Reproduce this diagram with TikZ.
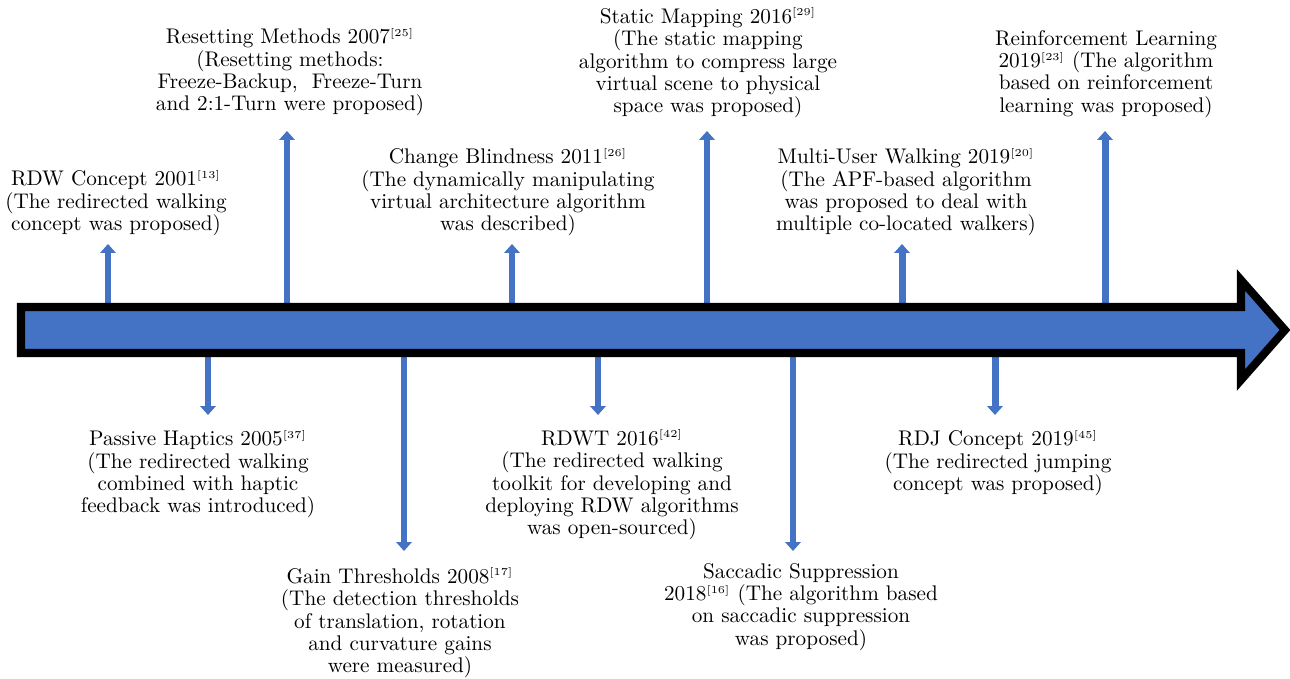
\documentclass[tikz,border=0pt]{standalone}
\usetikzlibrary{arrows.meta}
\definecolor{officeblue}{HTML}{4472C4}
\newcommand{\refnum}[1]{\textsuperscript{\tiny[#1]}}
\begin{document}
\begin{tikzpicture}[x=0.472pt, y=-0.472pt,
	evt/.style = {officeblue, line width=3.3pt, -{Triangle[width=7.2pt, length=4.2pt]}},
	lbl/.style = {align=center, inner sep=0pt, font=\fontsize{10}{10.5}\selectfont}]
	\useasboundingbox (0, 0) rectangle (1290, 679);

	\node [lbl] (rdw) at (116, 203) {RDW Concept 2001\refnum{13}\\(The redirected walking\\concept was proposed)};
	\node [lbl] (reset) at (290, 72) {Resetting Methods 2007\refnum{25}\\(Resetting methods:\\Freeze-Backup,\ \ Freeze-Turn\\and 2:1-Turn were proposed)};
	\node [lbl] (blind) at (508, 192) {Change Blindness 2011\refnum{26}\\(The dynamically manipulating\\virtual architecture algorithm\\was described)};
	\node [lbl] (static) at (708, 63) {Static Mapping 2016\refnum{29}\\(The static mapping\\algorithm to compress large\\virtual scene to physical\\space was proposed)};
	\node [lbl] (multi) at (906, 192) {Multi-User Walking 2019\refnum{20}\\(The APF-based algorithm\\was proposed to deal with\\multiple co-located walkers)};
	\node [lbl] (rl) at (1106, 74) {Reinforcement Learning\\2019\refnum{23} (The algorithm\\based on reinforcement\\learning was proposed)};

	\node [lbl] (haptic) at (198, 474) {Passive Haptics 2005\refnum{37}\\(The redirected walking\\combined with haptic\\feedback was introduced)};
	\node [lbl] (gain) at (400, 623) {Gain Thresholds 2008\refnum{17}\\(The detection thresholds\\of translation, rotation\\and curvature gains\\were measured)};
	\node [lbl] (rdwt) at (612, 485) {RDWT 2016\refnum{42}\\(The redirected walking\\toolkit for developing and\\deploying RDW algorithms\\was open-sourced)};
	\node [lbl] (sacc) at (801, 607) {Saccadic Suppression\\2018\refnum{16} (The algorithm based\\on saccadic suppression\\was proposed)};
	\node [lbl] (rdj) at (998, 463) {RDJ Concept 2019\refnum{45}\\(The redirected jumping\\concept was proposed)};

	% points on the time axis
	\coordinate (a1) at (108, 308);  \coordinate (b1) at (108, 244);
	\coordinate (a2) at (287, 308);  \coordinate (b2) at (287, 131);
	\coordinate (a3) at (512, 308);  \coordinate (b3) at (512, 244);
	\coordinate (a4) at (707, 308);  \coordinate (b4) at (707, 131);
	\coordinate (a5) at (902, 308);  \coordinate (b5) at (902, 244);
	\coordinate (a6) at (1105, 308); \coordinate (b6) at (1105, 131);
	\coordinate (c1) at (208, 352);  \coordinate (d1) at (208, 415);
	\coordinate (c2) at (404, 352);  \coordinate (d2) at (404, 551);
	\coordinate (c3) at (598, 352);  \coordinate (d3) at (598, 415);
	\coordinate (c4) at (793, 352);  \coordinate (d4) at (793, 551);
	\coordinate (c5) at (995, 352);  \coordinate (d5) at (995, 415);

	\draw [evt] (a1) -- (b1);
	\draw [evt] (a2) -- (b2);
	\draw [evt] (a3) -- (b3);
	\draw [evt] (a4) -- (b4);
	\draw [evt] (a5) -- (b5);
	\draw [evt] (a6) -- (b6);
	\draw [evt] (c1) -- (d1);
	\draw [evt] (c2) -- (d2);
	\draw [evt] (c3) -- (d3);
	\draw [evt] (c4) -- (d4);
	\draw [evt] (c5) -- (d5);

	% the time axis
	\filldraw [fill=officeblue, draw=black, line width=3.8pt]
		(21, 307) -- (1241, 307) -- (1241, 280) -- (1285, 330)
		-- (1241, 380) -- (1241, 353) -- (21, 353) -- cycle;
\end{tikzpicture}
\end{document}
